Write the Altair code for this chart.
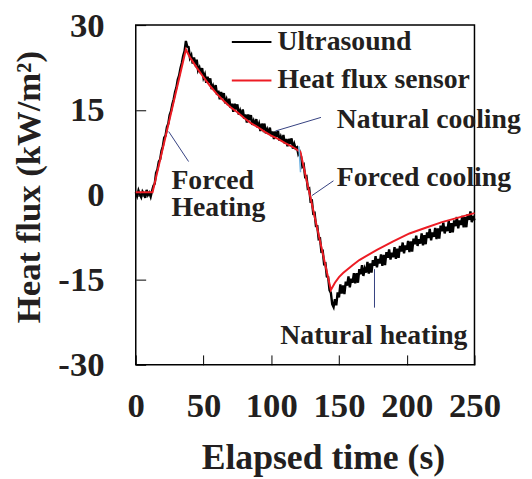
import altair as alt
import pandas as pd

FONT = "Liberation Serif"
INK = "#231f20"

x_ticks = [0, 50, 100, 150, 200, 250]
y_ticks = [-30, -15, 0, 15, 30]

us_flat = [0.5, -0.2, 0.8, 0.1, -0.4, 0.6, 0.2, -0.5, 0.9, 0.0, 0.4, -0.3, 0.7]
us_rise = [1.6, 2.0, 3.9, 4.5, 5.9, 6.3, 7.8, 8.6, 10.1, 10.5, 12.0, 12.6, 14.1,
           14.8, 16.0, 16.9, 18.2, 19.0, 20.4, 21.1, 22.4, 23.3, 24.6, 25.4, 27.2, 26.2]
us_ncool = [26.1, 24.2, 24.7, 23.2, 24.3, 23.2, 23.9, 22.0, 22.5, 21.5, 22.4, 20.7,
            21.3, 19.8, 20.9, 19.8, 20.6, 18.7, 19.3, 18.4, 19.4, 17.7, 18.4, 16.9,
            18.2, 17.1, 18.0, 16.2, 16.9, 15.9, 17.0, 15.4, 16.1, 14.7, 16.1, 15.1,
            16.0, 14.2, 14.9, 14.0, 15.1, 13.5, 14.2, 12.8, 14.2, 13.2, 14.1, 12.4,
            13.1, 12.3, 13.4, 11.9, 12.6, 11.3, 12.6, 11.7, 12.6, 10.9, 11.6, 10.8,
            11.9, 10.4, 11.2, 9.9, 11.2, 10.3, 11.3, 9.6, 10.3, 9.5, 10.6, 9.1, 9.9,
            8.6, 9.9, 9.0, 10.0, 8.2, 9.0, 8.2, 8.4, 7.2, 7.6]
us_fcool = [6.8, 5.0, 5.3, 3.2, 3.3, 1.1, 1.2, -1.1, -1.0, -3.3, -3.2, -5.5, -5.5,
            -7.8, -7.7, -10.0, -9.9, -12.2, -12.1, -14.4, -14.5, -16.8, -17.3, -19.3,
            -19.8, -18.4, -19.5, -17.2, -18.1]
us_nheat = [-15.8, -17.4, -16.0, -17.5, -15.3, -16.0, -14.4, -16.3, -14.8, -15.5,
            -13.8, -15.6, -13.8, -15.5, -13.1, -14.0, -12.4, -14.3, -13.0, -13.7,
            -11.8, -13.9, -12.1, -13.7, -11.5, -12.5, -10.8, -12.8, -11.3, -12.1,
            -10.5, -12.5, -10.6, -12.4, -10.1, -11.1, -9.6, -11.4, -10.2, -11.0,
            -9.2, -11.3, -9.5, -11.1, -9.0, -10.0, -8.4, -10.3, -8.9, -9.7,
            -8.1, -10.1, -8.2, -10.0, -7.7, -8.7, -7.2, -9.0, -7.8, -8.6,
            -6.8, -8.9, -7.1, -8.7, -6.6, -7.6, -6.0, -8.0, -6.6, -7.4,
            -5.8, -7.8, -5.9, -7.7, -5.4, -6.4, -4.9, -6.8, -5.6, -6.4,
            -4.6, -6.7, -5.0, -6.6, -4.5, -5.5, -3.9, -5.9, -4.5, -5.3,
            -3.7, -5.7, -3.9, -5.7, -3.4, -4.4, -2.9, -4.8, -3.7, -4.5]
ultrasound = us_flat + us_rise + us_ncool + us_fcool + us_nheat
us_time = list(range(len(ultrasound)))

# Heat flux sensor
hf_time = [0, 12.4, 37, 40, 45, 50, 55, 60, 65, 70, 75, 80, 85, 90, 95, 100, 105,
           110, 115, 121.5, 144, 147, 150, 153, 160, 165, 170, 178, 190, 202, 214,
           226, 238, 250]
hf_flux = [0.5, 0.5, 25.7, 24.3, 22.5, 20.8, 19.2, 17.8, 16.6, 15.5, 14.6, 13.6,
           12.7, 12.0, 11.2, 10.5, 9.9, 9.2, 8.6, 7.6, -16.8, -15.5, -14.5, -13.8,
           -12.4, -11.5, -10.8, -9.7, -8.2, -6.8, -5.8, -4.8, -4.0, -3.2]

series_names = ["Ultrasound", "Heat flux sensor"]
series_colors = ["#000000", "#ed1c24"]

# annotations
ann_text = ["Natural cooling", "Forced cooling", "Forced\nHeating", "Natural heating"]
ann_x = [148.4, 148.4, 26.3, 106.7]
ann_y = [11.8, 1.5, 1.1, -26.3]

lead_x = [103.1, 24.3, 130.1, 176.2]
lead_y = [11.3, 11.2, -0.1, -13.1]
lead_x2 = [136.7, 39.0, 145.9, 176.2]
lead_y2 = [13.7, 5.9, 2.5, -19.9]

blue_x = [120.4]
blue_y = [8.6]
blue_x2 = [121.6]
blue_y2 = [4.0]

df_us = pd.DataFrame({"t": us_time, "q": ultrasound, "series": series_names[0]})
df_hf = pd.DataFrame({"t": hf_time, "q": hf_flux, "series": series_names[1]})
df_ann = pd.DataFrame({"t": ann_x, "q": ann_y, "label": ann_text})
df_lead = pd.DataFrame({"t": lead_x, "q": lead_y, "t2": lead_x2, "q2": lead_y2})
df_blue = pd.DataFrame({"t": blue_x, "q": blue_y, "t2": blue_x2, "q2": blue_y2})

xscale = alt.Scale(domain=[0, 250], nice=False, zero=False)
yscale = alt.Scale(domain=[-30, 30], nice=False, zero=False)

xaxis = alt.Axis(values=x_ticks, offset=-10, tickSize=10, tickColor="#000", tickWidth=1,
                 domain=False, grid=False, labelPadding=24, labelFont=FONT,
                 labelFontSize=35, labelFontWeight="bold", labelColor=INK,
                 labelFlush=False, labelOverlap=False, labelBound=False,
                 labelExpr="'' + datum.value",
                 title="Elapsed time (s)", titleFont=FONT, titleFontSize=36,
                 titleFontWeight="bold", titleColor=INK, titleX=189, titleY=115,
                 titleBaseline="alphabetic", titleAlign="center")
yaxis = alt.Axis(values=y_ticks, offset=-10, tickSize=10, tickColor="#000", tickWidth=1,
                 domain=False, grid=False, labelPadding=32, labelFont=FONT,
                 labelFontSize=35, labelFontWeight="bold", labelColor=INK,
                 labelFlush=False, labelOverlap=False, labelBound=False,
                 labelExpr="'' + datum.value",
                 title="Heat flux (kW/m²)", titleFont=FONT, titleFontSize=35,
                 titleFontWeight="bold", titleColor=INK, titleX=-107, titleY=163,
                 titleAngle=270, titleBaseline="alphabetic", titleAlign="center")

color = alt.Color("series:N",
                  scale=alt.Scale(domain=series_names, range=series_colors),
                  legend=alt.Legend(orient="none", legendX=96, legendY=-4, title=None,
                                    symbolType="stroke", symbolSize=1600,
                                    symbolStrokeWidth=2, labelFont=FONT,
                                    labelFontSize=28, labelFontWeight="bold",
                                    labelColor=INK, labelOffset=5, rowPadding=4,
                                    padding=0, labelLimit=0))

us_line = alt.Chart(df_us).mark_line(strokeWidth=2.4).encode(
    x=alt.X("t:Q", scale=xscale, axis=xaxis),
    y=alt.Y("q:Q", scale=yscale, axis=yaxis),
    color=color,
)
hf_line = alt.Chart(df_hf).mark_line(strokeWidth=2).encode(
    x=alt.X("t:Q", scale=xscale),
    y=alt.Y("q:Q", scale=yscale),
    color=color,
)
leads = alt.Chart(df_lead).mark_rule(color="#34407f", strokeWidth=1).encode(
    x="t:Q", y="q:Q", x2="t2:Q", y2="q2:Q")
blue = alt.Chart(df_blue).mark_rule(color="#6fb3e3", strokeWidth=1.5).encode(
    x="t:Q", y="q:Q", x2="t2:Q", y2="q2:Q")
texts = alt.Chart(df_ann).mark_text(align="left", baseline="alphabetic", font=FONT,
                                    fontSize=28, fontWeight="bold", color=INK,
                                    lineBreak="\n", lineHeight=28).encode(
    x="t:Q", y="q:Q", text="label:N")

chart = alt.layer(us_line, hf_line, leads, blue, texts).properties(
    width=342, height=343,
    autosize=alt.AutoSizeParams(type="none"),
    padding={"left": 129, "top": 15, "right": 50, "bottom": 112},
).configure_view(stroke="#000000", strokeWidth=1.5)

chart.save("out.html", embed_options={"renderer": "svg", "actions": False})
